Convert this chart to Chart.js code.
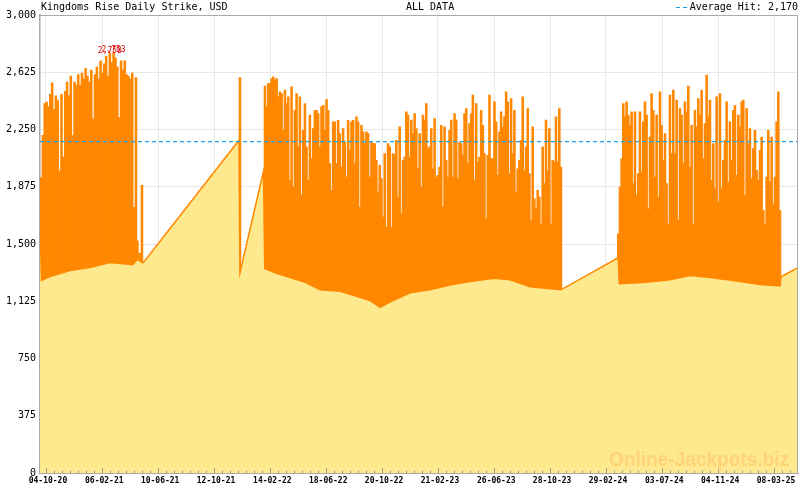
<!DOCTYPE html>
<html>
<head>
<meta charset="utf-8">
<title>Kingdoms Rise Daily Strike</title>
<script src="https://cdn.jsdelivr.net/npm/chart.js"></script>
<style>
  body { margin: 0; background: #fff; }
  #wrap { width: 800px; height: 490px; }
</style>
</head>
<body>
<div id="wrap"><canvas id="strike-chart" width="800" height="490"></canvas></div>
<script>
// x values are days counted from 04-10-20
const tickLabels = ['04-10-20', '06-02-21', '10-06-21', '12-10-21', '14-02-22', '18-06-22', '20-10-22',
    '21-02-23', '26-06-23', '28-10-23', '29-02-24', '03-07-24', '04-11-24', '08-03-25'];
const tickDays = [0, 125, 249, 373, 498, 622, 746, 870, 995, 1119, 1243, 1368, 1492, 1616];
const firstDay = -13.3;
const lastDay = 1669.2;

const averageHit = 2170;

// daily hits, three busy periods (first/last day of each period)
const seg1Days = [-11.1, 199.7];
const seg1Hits = [1935, 2212, 2420, 2430, 2400, 2480, 2555, 2380, 2470, 2440,
    1980, 2480, 2070, 2500, 2560, 2470, 2600, 2210, 2560, 2540,
    2610, 2540, 2620, 2580, 2650, 2600, 2560, 2640, 2320, 2610,
    2660, 2580, 2700, 2620, 2680, 2730, 2600, 2750, 2690, 2753,
    2720, 2660, 2330, 2700, 2640, 2700, 2610, 2600, 2580, 2620,
    1740, 2590];

const seg3Days = [486.1, 1143.1];
const seg3Hits = [2534, 2398, 2551, 2551, 2584, 2595, 2573, 2584, 2464, 2497,
    2486, 2245, 2508, 2420, 2464, 1917, 2530, 1873, 2376, 2486,
    2136, 2464, 1818, 2245, 2420, 2136, 1917, 2344, 2059, 2256,
    2376, 2376, 2354, 2136, 2398, 2409, 2245, 2446, 2376, 2026,
    1851, 2300, 2300, 2026, 2310, 2223, 2004, 2256, 2168, 1939,
    2310, 2114, 2300, 2310, 2026, 2333, 2300, 1742, 2278, 2234,
    2158, 2234, 2223, 1939, 2168, 2158, 2158, 2048, 1840, 2015,
    1928, 1676, 2092, 1610, 2158, 2136, 1610, 2092, 2081, 2179,
    1807, 2267, 1698, 2048, 2070, 2365, 2344, 2070,
    2311, 2223, 2354, 2256, 1993, 2223, 1873, 2344, 2311, 2420,
    2125, 2136, 2256, 1993, 2322, 1939, 1950, 2004, 2278, 1742,
    2267, 2048, 1939, 2245, 2311, 1939, 2354, 2311, 1928, 2168,
    2158, 2081, 2354, 2387, 2026, 2289, 2354, 2475, 1917, 2420,
    2037, 2070, 2376, 2278, 2092, 1665, 2081, 2475, 2059, 2059,
    2431, 2300, 1950, 2234, 2365, 2267, 2333, 2497, 2431, 1961,
    2453, 2092, 2376, 1840, 1993, 2048, 2179, 2464, 1982, 2136,
    2387, 1961, 1654, 2267, 1796, 1731, 1851, 1807, 1632, 2136,
    1895, 2311, 1982, 2256, 1632, 2048, 2037, 2333, 2037, 2387,
    2004];

const seg4Days = [1270.3, 1629.2];
const seg4Hits = [1567, 1873, 2059, 2420, 2333, 2431, 2344, 2278, 2365, 1895,
    2365, 1818, 1961, 2365, 1972, 2300, 2431, 2344, 1731, 2201,
    2486, 2376, 1939, 2344, 1807, 2497, 2278, 2048, 2223, 1895,
    1632, 2475, 2092, 2508, 2092, 2442, 1654, 2387, 2344, 2026,
    2431, 2365, 2534, 2004, 2278, 1632, 2376, 2267, 2453, 2344,
    2508, 2059, 2289, 2606, 2333, 2442, 1917, 2158, 1862, 2464,
    1774, 2486, 1862, 2048, 2179, 2431, 1906, 2300, 2048, 2376,
    2409, 1950, 2344, 2267, 2431, 2442, 1818, 2387, 2158, 2256,
    1928, 2125, 2245, 1982, 1917, 2114, 2201, 1720, 1632, 1939,
    2245, 1906, 2201, 1763, 1939, 2300, 2497, 1720];

// odd hits outside the busy periods
const strayDays = [203, 208, 213, 430.6];
const strayHits = [1520, 1440, 1885, 2590];

// jackpot level between hits (seed level and quiet-period growth)
const baseDays = [-13.3, -11.6, -10.0, 8.9, 53.3, 97.7, 142, 193, 202, 213, 216,
    428.4, 430.6, 482.8, 485.5, 512.7, 541.6, 574.9, 608.2, 652.6, 685.9, 719.2,
    741.3, 763.5, 808, 852.3, 896.7, 941.1, 996.6, 1029.9, 1074.3, 1143,
    1270, 1272.5, 1325, 1385, 1429.4, 1473.8, 1529.3, 1584.8, 1629.2, 1631.5, 1669.2];
const baseValues = [1640, 1640, 1262, 1287, 1326, 1346, 1379, 1365, 1400, 1380, 1378,
    2180, 1313, 1976, 1340, 1306, 1280, 1250, 1200, 1190, 1160, 1130,
    1085, 1120, 1180, 1200, 1232, 1255, 1275, 1265, 1220, 1200,
    1410, 1240, 1248, 1265, 1293, 1280, 1260, 1235, 1225, 1285, 1345];

function spread(days, hits) {
    const step = (days[1] - days[0]) / (hits.length - 1);
    return hits.map((h, i) => ({ x: days[0] + i * step, y: h }));
}

const hitPoints = [].concat(
    spread(seg1Days, seg1Hits),
    strayDays.map((d, i) => ({ x: d, y: strayHits[i] })),
    spread(seg3Days, seg3Hits),
    spread(seg4Days, seg4Hits)
).sort((a, b) => a.x - b.x);

const basePoints = baseDays.map((d, i) => ({ x: d, y: baseValues[i] }));

const MONO = '"DejaVu Sans Mono", monospace';

const decor = {
    id: 'decor',
    afterDatasetsDraw(chart) {
        const ctx = chart.ctx;
        const a = chart.chartArea;
        const xs = chart.scales.x;
        ctx.save();
        // frame
        ctx.strokeStyle = '#AAAAAA';
        ctx.lineWidth = 1;
        ctx.beginPath();
        ctx.moveTo(a.left, a.top + 0.5);
        ctx.lineTo(a.right - 0.5, a.top + 0.5);
        ctx.lineTo(a.right - 0.5, a.bottom);
        ctx.stroke();
        // tick marks on the bottom axis, 7 minor steps per label
        const minorStep = (tickDays[tickDays.length - 1] - tickDays[0]) / ((tickDays.length - 1) * 7);
        ctx.strokeStyle = '#9A9A9A';
        ctx.beginPath();
        for (let k = -2; k < 200; k++) {
            const d = tickDays[0] + k * minorStep;
            if (d < firstDay || d > lastDay) continue;
            const px = Math.round(xs.getPixelForValue(d)) + 0.5;
            const len = (k % 7 === 0) ? 5 : 2.5;
            ctx.moveTo(px, a.bottom);
            ctx.lineTo(px, a.bottom - len);
        }
        ctx.stroke();
        // labels on the two highest hits
        const top2 = hitPoints.slice().sort((p, q) => q.y - p.y).slice(0, 2);
        ctx.fillStyle = '#DD0000';
        ctx.font = '8px ' + MONO;
        ctx.textAlign = 'center';
        ctx.textBaseline = 'alphabetic';
        top2.forEach(p => {
            ctx.fillText(p.y.toLocaleString('en-US'), xs.getPixelForValue(p.x),
                chart.scales.y.getPixelForValue(p.y) - 0.5);
        });
        ctx.restore();
    },
    afterDraw(chart) {
        const ctx = chart.ctx;
        ctx.save();
        ctx.fillStyle = '#000';
        ctx.font = '10px ' + MONO;
        ctx.textBaseline = 'alphabetic';
        ctx.textAlign = 'left';
        ctx.fillText('Kingdoms Rise Daily Strike, USD', 41, 10);
        ctx.fillText('ALL DATA', 406, 10);
        ctx.textAlign = 'right';
        ctx.fillText('Average Hit: ' + averageHit.toLocaleString('en-US'), 798, 10);
        ctx.strokeStyle = '#1E9FE0';
        ctx.lineWidth = 1;
        ctx.setLineDash([4, 3]);
        ctx.beginPath();
        ctx.moveTo(676, 7.5);
        ctx.lineTo(690, 7.5);
        ctx.stroke();
        ctx.setLineDash([]);
        // watermark
        ctx.fillStyle = '#FFD37A';
        ctx.font = 'bold 21px "Liberation Sans", Arial, sans-serif';
        ctx.textAlign = 'left';
        ctx.fillText('Online-Jackpots.biz', 609, 466, 180);
        ctx.restore();
    }
};

new Chart(document.getElementById('strike-chart'), {
    type: 'bar',
    data: {
        datasets: [
            {
                type: 'line',
                label: 'Average Hit',
                data: [{ x: firstDay, y: averageHit }, { x: lastDay, y: averageHit }],
                borderColor: '#1E9FE0',
                borderWidth: 1.2,
                borderDash: [4, 3],
                pointRadius: 0,
                fill: false,
                order: 0
            },
            {
                type: 'line',
                label: 'Jackpot',
                data: basePoints,
                borderColor: '#FF8800',
                borderWidth: 1.5,
                backgroundColor: '#FFE98F',
                fill: 'origin',
                pointRadius: 0,
                tension: 0,
                order: 1
            },
            {
                type: 'bar',
                label: 'Hits',
                data: hitPoints,
                backgroundColor: '#FF8800',
                barThickness: 1.9,
                order: 2
            }
        ]
    },
    options: {
        responsive: false,
        animation: false,
        devicePixelRatio: 1,
        layout: { padding: { top: 15, right: 2, left: 0, bottom: 0 } },
        plugins: { legend: { display: false }, tooltip: { enabled: false } },
        scales: {
            x: {
                type: 'linear',
                min: firstDay,
                max: lastDay,
                offset: false,
                afterBuildTicks: scale => { scale.ticks = tickDays.map(v => ({ value: v })); },
                afterFit: scale => { scale.height = 17; },
                grid: { color: '#E8E8E8', drawTicks: false, offset: false },
                border: { color: '#AAAAAA', width: 1 },
                ticks: {
                    autoSkip: false,
                    maxRotation: 0,
                    padding: 3,
                    labelOffset: 2,
                    color: '#000',
                    font: { family: MONO, size: 8, weight: 'bold' },
                    callback: (v, i) => tickLabels[i]
                }
            },
            y: {
                min: 0,
                max: 3000,
                afterFit: scale => { scale.width = 40; },
                grid: { color: '#E8E8E8', drawTicks: false },
                border: { color: '#AAAAAA', width: 1.5 },
                ticks: {
                    stepSize: 375,
                    padding: 4,
                    color: '#000',
                    font: { family: MONO, size: 10 },
                    callback: v => v.toLocaleString('en-US')
                }
            }
        }
    },
    plugins: [decor]
});
</script>
</body>
</html>
